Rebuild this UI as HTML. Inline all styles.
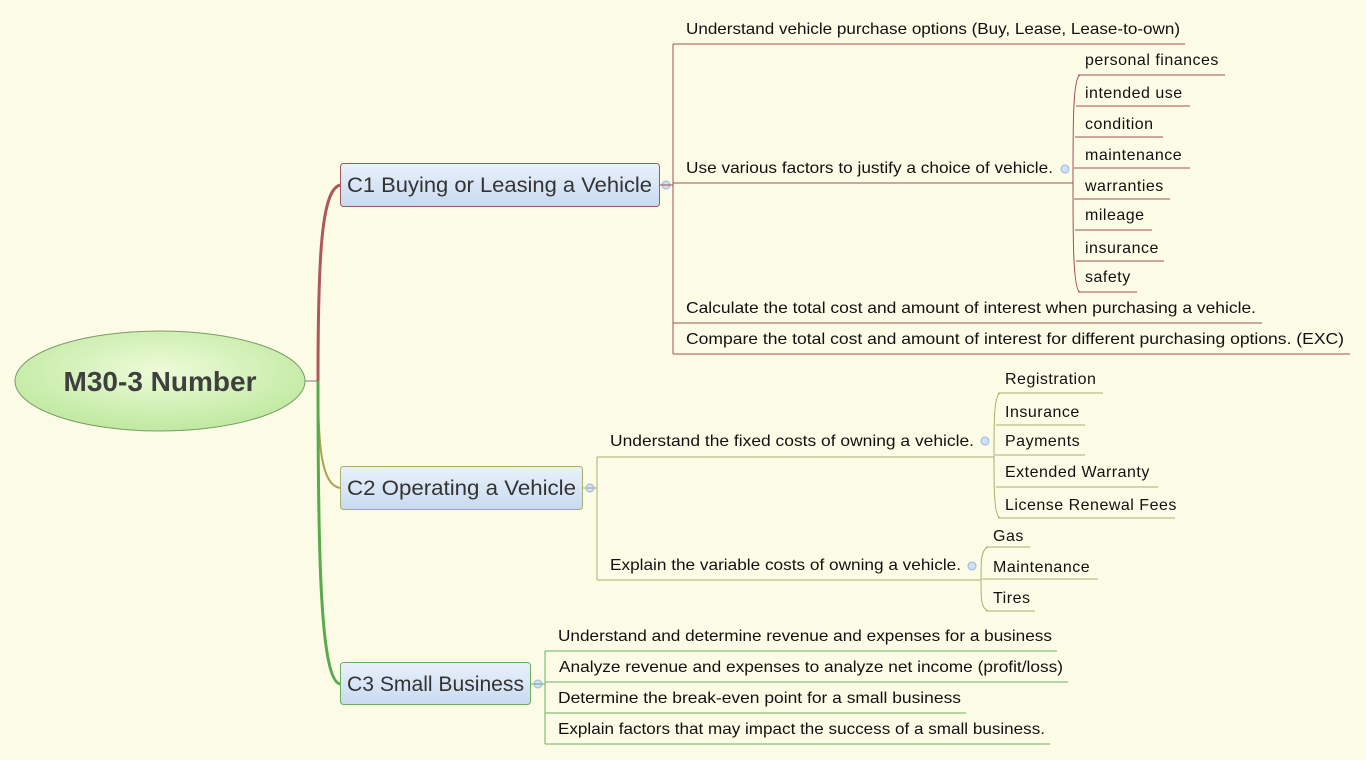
<!DOCTYPE html>
<html><head><meta charset="utf-8"><style>
html,body{margin:0;padding:0;background:#fcfce6;}
svg{display:block;}
text{font-family:"Liberation Sans",sans-serif;font-size:16px;fill:#111;}
.s{letter-spacing:0.5px;}
</style></head><body>
<svg width="1366" height="760" viewBox="0 0 1366 760">
<defs>
<radialGradient id="rg" cx="50%" cy="40%" r="60%"><stop offset="0" stop-color="#eefbd8"/><stop offset="1" stop-color="#bfe9a0"/></radialGradient>
<linearGradient id="bg" x1="0" y1="0" x2="0" y2="1"><stop offset="0" stop-color="#eaf1fb"/><stop offset="1" stop-color="#c8daf0"/></linearGradient>
</defs>
<rect width="1366" height="760" fill="#fcfce6"/>
<path d="M305 381 H318" stroke="#777" stroke-width="1" fill="none"/>
<path d="M318 381 C318 250 322 190 340 185" stroke="#b05858" stroke-width="3" fill="none"/>
<path d="M318 381 C318 450 322 485 340 488" stroke="#b0a050" stroke-width="2" fill="none"/>
<path d="M318 381 C318 550 320 680 340 684" stroke="#5aaa4a" stroke-width="3" fill="none"/>
<ellipse cx="160" cy="381" rx="145" ry="50" fill="url(#rg)" stroke="#7a9a6a" stroke-width="1"/>
<text x="160" y="391" text-anchor="middle" style="font-size:28px;font-weight:bold;fill:#3f3f3f">M30-3 Number</text>

<rect x="340.5" y="163.5" width="319" height="43" rx="3" fill="url(#bg)" stroke="#a05a5a"/>
<text x="347" y="192" style="font-size:21px;fill:#333" textLength="305" lengthAdjust="spacingAndGlyphs">C1 Buying or Leasing a Vehicle</text>
<circle cx="666" cy="185" r="4" fill="#cfe0f5" stroke="#9bb5d8"/>
<g stroke="#a05050" fill="none" stroke-width="1">
<path d="M660 185 H673"/>
<path d="M673 44 V354"/>
<path d="M673 44 H1185"/><path d="M673 183 H1073"/><path d="M673 323 H1262"/><path d="M673 354 H1350"/>
<path d="M1073 183 C1073 120 1073 78 1080 75 M1073 183 C1073 240 1073 290 1080 292"/>
<path d="M1078 75 H1225"/><path d="M1076 106 H1190"/><path d="M1075 137 H1163"/><path d="M1074 168 H1190"/><path d="M1074 199 H1170"/><path d="M1075 230 H1152"/><path d="M1076 261 H1164"/><path d="M1078 292 H1137"/>
</g>
<text x="686" y="34" textLength="494" lengthAdjust="spacingAndGlyphs">Understand vehicle purchase options (Buy, Lease, Lease-to-own)</text>
<text x="686" y="173" textLength="367" lengthAdjust="spacingAndGlyphs">Use various factors to justify a choice of vehicle.</text>
<circle cx="1065" cy="169" r="4" fill="#cfe0f5" stroke="#9bb5d8"/>
<text x="686" y="313" textLength="570" lengthAdjust="spacingAndGlyphs">Calculate the total cost and amount of interest when purchasing a vehicle.</text>
<text x="686" y="344" textLength="658" lengthAdjust="spacingAndGlyphs">Compare the total cost and amount of interest for different purchasing options. (EXC)</text>
<g class="s">
<text x="1085" y="65">personal finances</text>
<text x="1085" y="98">intended use</text>
<text x="1085" y="129">condition</text>
<text x="1085" y="160">maintenance</text>
<text x="1085" y="191">warranties</text>
<text x="1085" y="220">mileage</text>
<text x="1085" y="253">insurance</text>
<text x="1085" y="282">safety</text>
</g>

<rect x="340.5" y="466.5" width="242" height="43" rx="3" fill="url(#bg)" stroke="#a8b070"/>
<text x="347" y="495" style="font-size:21px;fill:#333" textLength="229" lengthAdjust="spacingAndGlyphs">C2 Operating a Vehicle</text>
<circle cx="590" cy="488" r="4" fill="#cfe0f5" stroke="#9bb5d8"/>
<g stroke="#a8b070" fill="none" stroke-width="1">
<path d="M583 488 H597"/><path d="M597 457 V580"/>
<path d="M597 457 H994"/><path d="M597 580 H981"/>
<path d="M994 457 C994 420 994 396 1000 393 M994 457 C994 490 994 515 1000 518"/>
<path d="M998 393 H1103"/><path d="M996 425 H1085"/><path d="M995 455 H1085"/><path d="M996 487 H1158"/><path d="M998 518 H1175"/>
<path d="M981 580 C981 560 981 550 988 547 M981 580 C981 600 981 608 988 611"/>
<path d="M986 547 H1030"/><path d="M982 579 H1098"/><path d="M986 611 H1035"/>
</g>
<text x="610" y="446" textLength="364" lengthAdjust="spacingAndGlyphs">Understand the fixed costs of owning a vehicle.</text>
<circle cx="985" cy="441" r="4" fill="#cfe0f5" stroke="#9bb5d8"/>
<text x="610" y="570" textLength="351" lengthAdjust="spacingAndGlyphs">Explain the variable costs of owning a vehicle.</text>
<circle cx="972" cy="566" r="4" fill="#cfe0f5" stroke="#9bb5d8"/>
<g class="s">
<text x="1005" y="384">Registration</text>
<text x="1005" y="417">Insurance</text>
<text x="1005" y="446">Payments</text>
<text x="1005" y="477">Extended Warranty</text>
<text x="1005" y="510">License Renewal Fees</text>
<text x="993" y="541">Gas</text>
<text x="993" y="572">Maintenance</text>
<text x="993" y="603">Tires</text>
</g>

<rect x="340.5" y="662.5" width="190" height="42" rx="3" fill="url(#bg)" stroke="#6ab060"/>
<text x="347" y="691" style="font-size:21px;fill:#333" textLength="177" lengthAdjust="spacingAndGlyphs">C3 Small Business</text>
<circle cx="538" cy="684" r="4" fill="#cfe0f5" stroke="#9bb5d8"/>
<g stroke="#6ab060" fill="none" stroke-width="1">
<path d="M531 684 H545"/><path d="M545 651 V744"/>
<path d="M545 651 H1057"/><path d="M545 682 H1068"/><path d="M545 713 H966"/><path d="M545 744 H1050"/>
</g>
<text x="558" y="641" textLength="494" lengthAdjust="spacingAndGlyphs">Understand and determine revenue and expenses for a business</text>
<text x="559" y="672" textLength="504" lengthAdjust="spacingAndGlyphs">Analyze revenue and expenses to analyze net income (profit/loss)</text>
<text x="558" y="703" textLength="403" lengthAdjust="spacingAndGlyphs">Determine the break-even point for a small business</text>
<text x="558" y="734" textLength="487" lengthAdjust="spacingAndGlyphs">Explain factors that may impact the success of a small business.</text>
</svg>
</body></html>
